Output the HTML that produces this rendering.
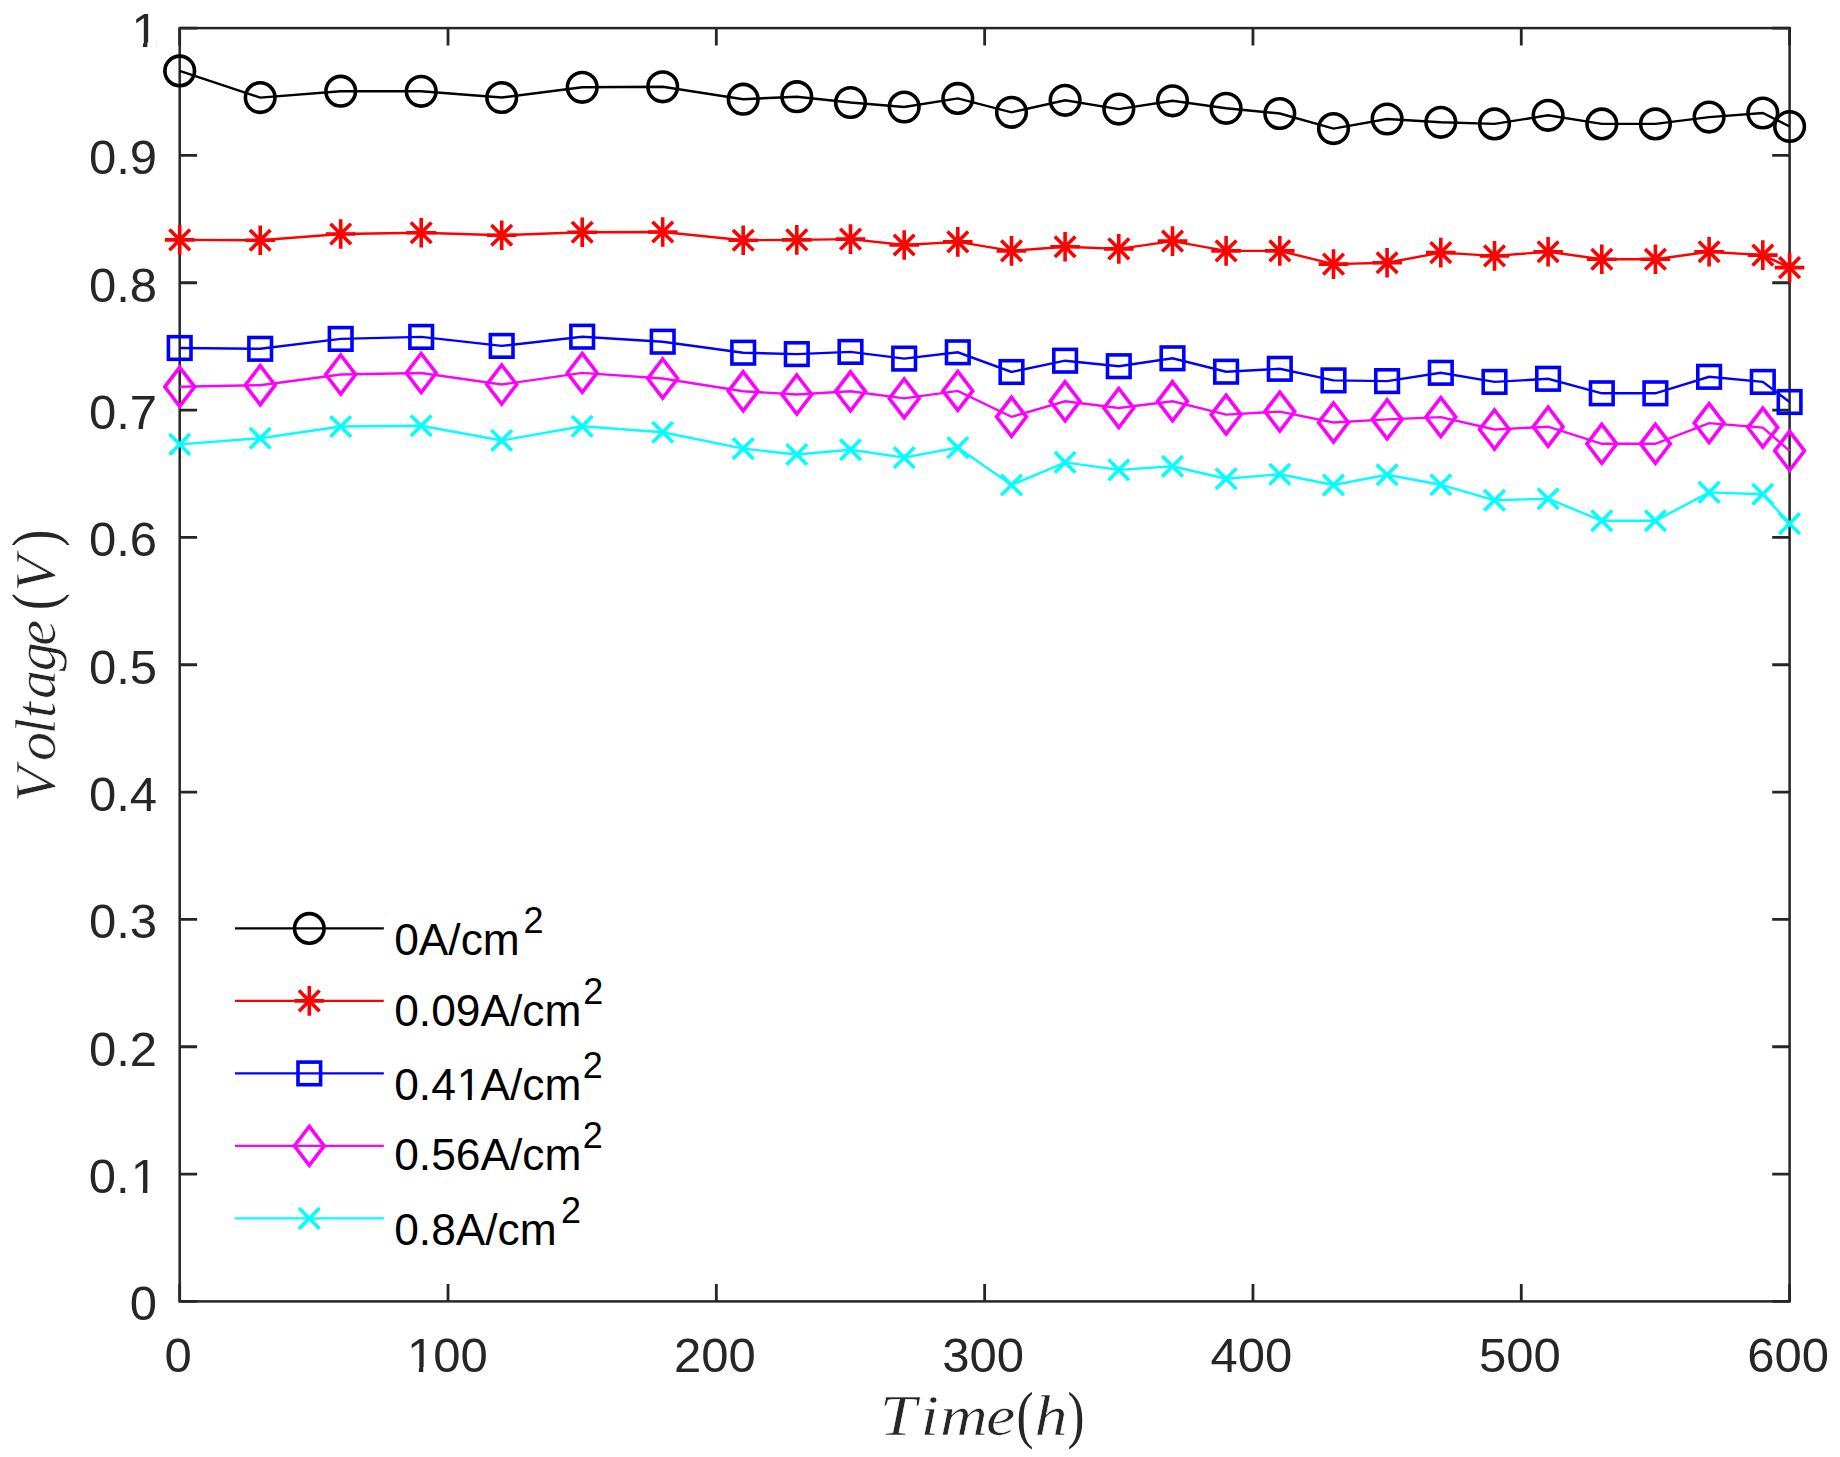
<!DOCTYPE html>
<html lang="en"><head><meta charset="utf-8"><title>Voltage vs Time</title>
<style>html,body{margin:0;padding:0;background:#fff;overflow:hidden}svg{display:block}text{font-family:"Liberation Sans",Arial,Helvetica,sans-serif;font-kerning:none}.tk{font-size:49px;fill:#262626}.lg{font-size:44.3px;fill:#000}.sup{font-size:36px}.lab text{font-family:"Liberation Serif","Times New Roman",serif;font-size:58px;fill:#262626;font-variant-ligatures:none;font-feature-settings:"liga" 0,"clig" 0,"kern" 0}.it{font-style:italic;stroke:#fff;stroke-width:0.6px}.lab .pr{font-style:normal;font-size:63px}</style></head><body>
<svg width="1840" height="1457" viewBox="0 0 1840 1457">
<rect width="1840" height="1457" fill="#fff"/>
<defs>
<g id="mo"><circle r="14.8" fill="none" stroke-width="3.6"/></g>
<g id="ma"><path d="M-14.8 0H14.8M0 -14.8V14.8M-10.3 -10.3L10.3 10.3M-10.3 10.3L10.3 -10.3" fill="none" stroke-width="3.6"/></g>
<g id="ms"><rect x="-11.3" y="-11.3" width="22.6" height="22.6" fill="none" stroke-width="3.6"/></g>
<g id="md"><path d="M0 -19.5L14.9 0L0 19.5L-14.9 0Z" fill="none" stroke-width="3.6" stroke-miterlimit="10"/></g>
<g id="mx"><path d="M-10.3 -10.3L10.3 10.3M-10.3 10.3L10.3 -10.3" fill="none" stroke-width="3.6"/></g>
<clipPath id="c100"><path clip-rule="evenodd" d="M400.65 1288.30H492.38V1391.20H400.65ZM409.00 1366.92H418.83V1373.60H409.00ZM423.24 1366.92H432.52V1373.60H423.24Z"/></clipPath>
<clipPath id="cy1"><path clip-rule="evenodd" d="M60.00 1109.77H162.00V1212.67H60.00ZM133.11 1188.40H142.93V1195.07H133.11ZM147.34 1188.40H156.63V1195.07H147.34Z"/></clipPath>
<clipPath id="cy10"><path clip-rule="evenodd" d="M60.00 -36.20H162.00V66.70H60.00ZM133.11 42.42H142.93V49.10H133.11ZM147.34 42.42H156.63V49.10H147.34Z"/></clipPath>
<clipPath id="cl41"><path clip-rule="evenodd" d="M390.00 1024.69H620.00V1117.72H390.00ZM458.89 1095.68H467.77V1102.00H458.89ZM471.76 1095.68H480.16V1102.00H471.76Z"/></clipPath>
</defs>
<g stroke="#262626" stroke-width="2.5" fill="none">
<rect x="179.7" y="28.1" width="1609.90" height="1273.30"/>
<path d="M179.70 1301.4v-17.4M179.70 28.1v17.4M448.02 1301.4v-17.4M448.02 28.1v17.4M716.33 1301.4v-17.4M716.33 28.1v17.4M984.65 1301.4v-17.4M984.65 28.1v17.4M1252.97 1301.4v-17.4M1252.97 28.1v17.4M1521.28 1301.4v-17.4M1521.28 28.1v17.4M1789.60 1301.4v-17.4M1789.60 28.1v17.4M179.7 1301.40h17.4M1789.6 1301.40h-17.4M179.7 1174.07h17.4M1789.6 1174.07h-17.4M179.7 1046.74h17.4M1789.6 1046.74h-17.4M179.7 919.41h17.4M1789.6 919.41h-17.4M179.7 792.08h17.4M1789.6 792.08h-17.4M179.7 664.75h17.4M1789.6 664.75h-17.4M179.7 537.42h17.4M1789.6 537.42h-17.4M179.7 410.09h17.4M1789.6 410.09h-17.4M179.7 282.76h17.4M1789.6 282.76h-17.4M179.7 155.43h17.4M1789.6 155.43h-17.4M179.7 28.10h17.4M1789.6 28.10h-17.4" stroke-width="2.8"/>
</g>
<g class="lab">
<text class="it" transform="translate(879.67 1435) scale(1.14 1)" x="0.00 35.88 52.98 93.27" y="0">Time</text><text class="pr" transform="translate(1016.53 1436.1) scale(0.81 1)" x="0.00" y="0">(</text><text class="it" transform="translate(1034.60 1435) scale(1.14 1)" x="0.00" y="0">h</text><text class="pr" transform="translate(1067.43 1436.1) scale(0.81 1)" x="0.00" y="0">)</text>
</g>
<g class="lab">
<text class="it" transform="translate(55.2 801.92) rotate(-90) scale(1.0 1)" x="0.00 40.92 67.56 83.86 102.90 130.55 156.26" y="0">Voltage</text><text class="pr" transform="translate(56.25 609.95) rotate(-90) scale(0.81 1)" x="0.00" y="0">(</text><text class="it" transform="translate(55.2 591.32) rotate(-90) scale(1.0 1)" x="0.00" y="0">V</text><text class="pr" transform="translate(56.25 546.80) rotate(-90) scale(0.81 1)" x="0.00" y="0">)</text>
</g>
<g stroke="#000">
<polyline points="179.7,70.9 260.2,97.6 340.7,91.2 421.2,91.3 501.7,97.5 582.2,87.3 662.7,86.8 743.2,99.2 796.8,96.7 850.5,102.5 904.2,107.0 957.8,98.4 1011.5,112.3 1065.1,100.3 1118.8,109.1 1172.5,100.8 1226.1,108.3 1279.8,113.5 1333.5,128.6 1387.1,119.0 1440.8,122.3 1494.5,123.9 1548.1,115.3 1601.8,123.9 1655.4,123.9 1709.1,117.1 1762.8,113.0 1789.6,126.5" fill="none" stroke-width="2.4" stroke-linejoin="miter"/>
<use href="#mo" x="179.7" y="70.9"/>
<use href="#mo" x="260.2" y="97.6"/>
<use href="#mo" x="340.7" y="91.2"/>
<use href="#mo" x="421.2" y="91.3"/>
<use href="#mo" x="501.7" y="97.5"/>
<use href="#mo" x="582.2" y="87.3"/>
<use href="#mo" x="662.7" y="86.8"/>
<use href="#mo" x="743.2" y="99.2"/>
<use href="#mo" x="796.8" y="96.7"/>
<use href="#mo" x="850.5" y="102.5"/>
<use href="#mo" x="904.2" y="107.0"/>
<use href="#mo" x="957.8" y="98.4"/>
<use href="#mo" x="1011.5" y="112.3"/>
<use href="#mo" x="1065.1" y="100.3"/>
<use href="#mo" x="1118.8" y="109.1"/>
<use href="#mo" x="1172.5" y="100.8"/>
<use href="#mo" x="1226.1" y="108.3"/>
<use href="#mo" x="1279.8" y="113.5"/>
<use href="#mo" x="1333.5" y="128.6"/>
<use href="#mo" x="1387.1" y="119.0"/>
<use href="#mo" x="1440.8" y="122.3"/>
<use href="#mo" x="1494.5" y="123.9"/>
<use href="#mo" x="1548.1" y="115.3"/>
<use href="#mo" x="1601.8" y="123.9"/>
<use href="#mo" x="1655.4" y="123.9"/>
<use href="#mo" x="1709.1" y="117.1"/>
<use href="#mo" x="1762.8" y="113.0"/>
<use href="#mo" x="1789.6" y="126.5"/>
</g>
<g stroke="#f00">
<polyline points="179.7,239.9 260.2,240.2 340.7,234.0 421.2,232.8 501.7,235.3 582.2,232.3 662.7,232.0 743.2,240.2 796.8,239.9 850.5,239.1 904.2,245.0 957.8,241.9 1011.5,250.9 1065.1,246.8 1118.8,248.9 1172.5,241.1 1226.1,250.9 1279.8,250.9 1333.5,264.1 1387.1,262.8 1440.8,252.6 1494.5,255.9 1548.1,251.8 1601.8,259.2 1655.4,259.2 1709.1,251.8 1762.8,255.1 1789.6,267.6" fill="none" stroke-width="2.4" stroke-linejoin="miter"/>
<use href="#ma" x="179.7" y="239.9"/>
<use href="#ma" x="260.2" y="240.2"/>
<use href="#ma" x="340.7" y="234.0"/>
<use href="#ma" x="421.2" y="232.8"/>
<use href="#ma" x="501.7" y="235.3"/>
<use href="#ma" x="582.2" y="232.3"/>
<use href="#ma" x="662.7" y="232.0"/>
<use href="#ma" x="743.2" y="240.2"/>
<use href="#ma" x="796.8" y="239.9"/>
<use href="#ma" x="850.5" y="239.1"/>
<use href="#ma" x="904.2" y="245.0"/>
<use href="#ma" x="957.8" y="241.9"/>
<use href="#ma" x="1011.5" y="250.9"/>
<use href="#ma" x="1065.1" y="246.8"/>
<use href="#ma" x="1118.8" y="248.9"/>
<use href="#ma" x="1172.5" y="241.1"/>
<use href="#ma" x="1226.1" y="250.9"/>
<use href="#ma" x="1279.8" y="250.9"/>
<use href="#ma" x="1333.5" y="264.1"/>
<use href="#ma" x="1387.1" y="262.8"/>
<use href="#ma" x="1440.8" y="252.6"/>
<use href="#ma" x="1494.5" y="255.9"/>
<use href="#ma" x="1548.1" y="251.8"/>
<use href="#ma" x="1601.8" y="259.2"/>
<use href="#ma" x="1655.4" y="259.2"/>
<use href="#ma" x="1709.1" y="251.8"/>
<use href="#ma" x="1762.8" y="255.1"/>
<use href="#ma" x="1789.6" y="267.6"/>
</g>
<g stroke="#00f">
<polyline points="179.7,348.0 260.2,348.8 340.7,338.9 421.2,336.9 501.7,345.9 582.2,336.7 662.7,341.7 743.2,352.7 796.8,354.1 850.5,351.9 904.2,358.6 957.8,352.3 1011.5,372.0 1065.1,360.7 1118.8,366.2 1172.5,358.3 1226.1,371.7 1279.8,368.8 1333.5,380.4 1387.1,381.1 1440.8,372.8 1494.5,381.9 1548.1,378.8 1601.8,393.3 1655.4,393.3 1709.1,376.8 1762.8,381.9 1789.6,402.0" fill="none" stroke-width="2.4" stroke-linejoin="miter"/>
<use href="#ms" x="179.7" y="348.0"/>
<use href="#ms" x="260.2" y="348.8"/>
<use href="#ms" x="340.7" y="338.9"/>
<use href="#ms" x="421.2" y="336.9"/>
<use href="#ms" x="501.7" y="345.9"/>
<use href="#ms" x="582.2" y="336.7"/>
<use href="#ms" x="662.7" y="341.7"/>
<use href="#ms" x="743.2" y="352.7"/>
<use href="#ms" x="796.8" y="354.1"/>
<use href="#ms" x="850.5" y="351.9"/>
<use href="#ms" x="904.2" y="358.6"/>
<use href="#ms" x="957.8" y="352.3"/>
<use href="#ms" x="1011.5" y="372.0"/>
<use href="#ms" x="1065.1" y="360.7"/>
<use href="#ms" x="1118.8" y="366.2"/>
<use href="#ms" x="1172.5" y="358.3"/>
<use href="#ms" x="1226.1" y="371.7"/>
<use href="#ms" x="1279.8" y="368.8"/>
<use href="#ms" x="1333.5" y="380.4"/>
<use href="#ms" x="1387.1" y="381.1"/>
<use href="#ms" x="1440.8" y="372.8"/>
<use href="#ms" x="1494.5" y="381.9"/>
<use href="#ms" x="1548.1" y="378.8"/>
<use href="#ms" x="1601.8" y="393.3"/>
<use href="#ms" x="1655.4" y="393.3"/>
<use href="#ms" x="1709.1" y="376.8"/>
<use href="#ms" x="1762.8" y="381.9"/>
<use href="#ms" x="1789.6" y="402.0"/>
</g>
<g stroke="#f0f">
<polyline points="179.7,386.8 260.2,385.2 340.7,374.5 421.2,373.0 501.7,384.5 582.2,372.9 662.7,378.5 743.2,391.3 796.8,394.5 850.5,391.3 904.2,398.4 957.8,390.9 1011.5,416.8 1065.1,401.3 1118.8,408.0 1172.5,401.3 1226.1,414.6 1279.8,411.6 1333.5,422.5 1387.1,419.4 1440.8,417.1 1494.5,429.5 1548.1,426.7 1601.8,443.8 1655.4,443.8 1709.1,423.1 1762.8,427.6 1789.6,450.8" fill="none" stroke-width="2.4" stroke-linejoin="miter"/>
<use href="#md" x="179.7" y="386.8"/>
<use href="#md" x="260.2" y="385.2"/>
<use href="#md" x="340.7" y="374.5"/>
<use href="#md" x="421.2" y="373.0"/>
<use href="#md" x="501.7" y="384.5"/>
<use href="#md" x="582.2" y="372.9"/>
<use href="#md" x="662.7" y="378.5"/>
<use href="#md" x="743.2" y="391.3"/>
<use href="#md" x="796.8" y="394.5"/>
<use href="#md" x="850.5" y="391.3"/>
<use href="#md" x="904.2" y="398.4"/>
<use href="#md" x="957.8" y="390.9"/>
<use href="#md" x="1011.5" y="416.8"/>
<use href="#md" x="1065.1" y="401.3"/>
<use href="#md" x="1118.8" y="408.0"/>
<use href="#md" x="1172.5" y="401.3"/>
<use href="#md" x="1226.1" y="414.6"/>
<use href="#md" x="1279.8" y="411.6"/>
<use href="#md" x="1333.5" y="422.5"/>
<use href="#md" x="1387.1" y="419.4"/>
<use href="#md" x="1440.8" y="417.1"/>
<use href="#md" x="1494.5" y="429.5"/>
<use href="#md" x="1548.1" y="426.7"/>
<use href="#md" x="1601.8" y="443.8"/>
<use href="#md" x="1655.4" y="443.8"/>
<use href="#md" x="1709.1" y="423.1"/>
<use href="#md" x="1762.8" y="427.6"/>
<use href="#md" x="1789.6" y="450.8"/>
</g>
<g stroke="#0ff">
<polyline points="179.7,444.4 260.2,438.2 340.7,426.5 421.2,425.8 501.7,440.5 582.2,426.2 662.7,432.2 743.2,448.6 796.8,454.5 850.5,449.8 904.2,457.6 957.8,447.6 1011.5,485.0 1065.1,462.4 1118.8,469.9 1172.5,466.3 1226.1,478.7 1279.8,474.2 1333.5,485.0 1387.1,474.7 1440.8,484.7 1494.5,500.3 1548.1,498.7 1601.8,520.8 1655.4,520.8 1709.1,492.4 1762.8,494.2 1789.6,523.6" fill="none" stroke-width="2.4" stroke-linejoin="miter"/>
<use href="#mx" x="179.7" y="444.4"/>
<use href="#mx" x="260.2" y="438.2"/>
<use href="#mx" x="340.7" y="426.5"/>
<use href="#mx" x="421.2" y="425.8"/>
<use href="#mx" x="501.7" y="440.5"/>
<use href="#mx" x="582.2" y="426.2"/>
<use href="#mx" x="662.7" y="432.2"/>
<use href="#mx" x="743.2" y="448.6"/>
<use href="#mx" x="796.8" y="454.5"/>
<use href="#mx" x="850.5" y="449.8"/>
<use href="#mx" x="904.2" y="457.6"/>
<use href="#mx" x="957.8" y="447.6"/>
<use href="#mx" x="1011.5" y="485.0"/>
<use href="#mx" x="1065.1" y="462.4"/>
<use href="#mx" x="1118.8" y="469.9"/>
<use href="#mx" x="1172.5" y="466.3"/>
<use href="#mx" x="1226.1" y="478.7"/>
<use href="#mx" x="1279.8" y="474.2"/>
<use href="#mx" x="1333.5" y="485.0"/>
<use href="#mx" x="1387.1" y="474.7"/>
<use href="#mx" x="1440.8" y="484.7"/>
<use href="#mx" x="1494.5" y="500.3"/>
<use href="#mx" x="1548.1" y="498.7"/>
<use href="#mx" x="1601.8" y="520.8"/>
<use href="#mx" x="1655.4" y="520.8"/>
<use href="#mx" x="1709.1" y="492.4"/>
<use href="#mx" x="1762.8" y="494.2"/>
<use href="#mx" x="1789.6" y="523.6"/>
</g>
<g stroke="#000"><path d="M235 928.4H383.8" stroke-width="2.4" fill="none"/><use href="#mo" x="309.3" y="928.4"/></g>
<text class="lg" x="394.2" y="955.4">0A/cm<tspan class="sup" x="523.6" dy="-22">2</tspan></text>
<g stroke="#f00"><path d="M235 1000.9H383.8" stroke-width="2.4" fill="none"/><use href="#ma" x="309.3" y="1000.9"/></g>
<text class="lg" x="394.2" y="1025.7">0.09A/cm<tspan class="sup" x="583.2" dy="-22">2</tspan></text>
<g stroke="#00f"><path d="M235 1073.4H383.8" stroke-width="2.4" fill="none"/><use href="#ms" x="309.3" y="1073.4"/></g>
<text class="lg" x="394.2" y="1100.0" clip-path="url(#cl41)" dx="0 0 0 0.9 -0.9">0.41A/cm<tspan class="sup" x="582.8" dy="-22">2</tspan></text>
<g stroke="#f0f"><path d="M235 1145.9H383.8" stroke-width="2.4" fill="none"/><use href="#md" x="309.3" y="1145.9"/></g>
<text class="lg" x="394.2" y="1170.4">0.56A/cm<tspan class="sup" x="582.8" dy="-22">2</tspan></text>
<g stroke="#0ff"><path d="M235 1218.4H383.8" stroke-width="2.4" fill="none"/><use href="#mx" x="309.3" y="1218.4"/></g>
<text class="lg" x="394.2" y="1244.6">0.8A/cm<tspan class="sup" x="561.0" dy="-22">2</tspan></text>
<g class="tk" text-anchor="middle">
<text x="178.2" y="1371.6">0</text>
<text x="446.5" y="1371.6" clip-path="url(#c100)" dx="0.9 -0.9 0">100</text>
<text x="714.8" y="1371.6">200</text>
<text x="983.1" y="1371.6">300</text>
<text x="1251.5" y="1371.6">400</text>
<text x="1519.8" y="1371.6">500</text>
<text x="1788.1" y="1371.6">600</text>
</g>
<g class="tk" text-anchor="end">
<text x="157" y="1320.4">0</text>
<text x="157.9" y="1193.1" clip-path="url(#cy1)" dx="0 0 0.9">0.1</text>
<text x="157" y="1065.7">0.2</text>
<text x="157" y="938.4">0.3</text>
<text x="157" y="811.1">0.4</text>
<text x="157" y="683.8">0.5</text>
<text x="157" y="556.4">0.6</text>
<text x="157" y="429.1">0.7</text>
<text x="157" y="301.8">0.8</text>
<text x="157" y="174.4">0.9</text>
<text x="157.9" y="47.1" clip-path="url(#cy10)" dx="0.9">1</text>
</g>
</svg></body></html>
